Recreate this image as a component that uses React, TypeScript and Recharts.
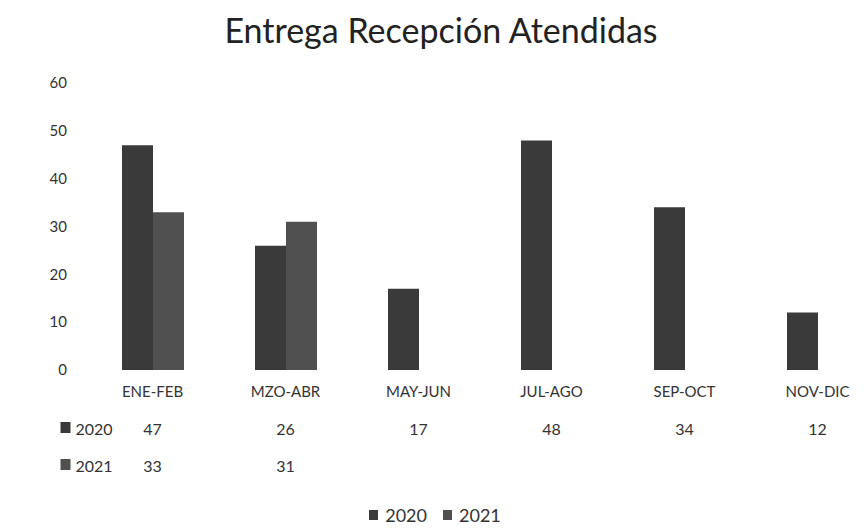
import React from 'react';
import { BarChart, Bar, XAxis, YAxis, Legend } from 'recharts';

const periods = ['ENE-FEB', 'MZO-ABR', 'MAY-JUN', 'JUL-AGO', 'SEP-OCT', 'NOV-DIC'];
const values2020: (number | null)[] = [47, 26, 17, 48, 34, 12];
const values2021: (number | null)[] = [33, 31, null, null, null, null];
const yTicks = [0, 10, 20, 30, 40, 50, 60];

const series = [
  { key: 'y2020', name: '2020', values: values2020, color: '#3a3a3a' },
  { key: 'y2021', name: '2021', values: values2021, color: '#505050' },
];

const data = periods.map((period, i) => ({
  period,
  y2020: values2020[i],
  y2021: values2021[i],
}));

const FONT = 'Lato, "Open Sans", sans-serif';
const TEXT = '#333333';

// one row of the data table under the axis, drawn on its own x axis
const TableTick = (props: any) => {
  const { x, y, index, values, label, color } = props;
  const v = values[index];
  return (
    <g fontFamily={FONT}>
      {index === 0 && (
        <g>
          <rect x={x - 92} y={y + 15} width={10} height={11} fill={color} />
          <text x={x - 77} y={y + 21} dominantBaseline="central" fontSize={16} fill={TEXT}>
            {label}
          </text>
        </g>
      )}
      <text x={x} y={y + 21} textAnchor="middle" dominantBaseline="central" fontSize={16} fill={TEXT}>
        {v == null ? '' : v}
      </text>
    </g>
  );
};

const CategoryTick = (props: any) => {
  const { x, y, payload } = props;
  return (
    <text
      x={x}
      y={y + 21}
      textAnchor="middle"
      dominantBaseline="central"
      fontFamily={FONT}
      fontSize={15}
      fill={TEXT}
    >
      {payload.value}
    </text>
  );
};

const LegendContent = () => (
  <div
    style={{
      display: 'flex',
      justifyContent: 'center',
      gap: 16,
      height: 22,
      alignItems: 'center',
      fontFamily: FONT,
      fontSize: 18,
      color: TEXT,
      marginLeft: -22,
    }}
  >
    {series.map(s => (
      <span key={s.key} style={{ display: 'flex', alignItems: 'center', gap: 7 }}>
        <span style={{ width: 9, height: 10, background: s.color, display: 'inline-block' }} />
        {s.name}
      </span>
    ))}
  </div>
);

export default function App() {
  return (
    <div style={{ position: 'relative', width: 858, height: 522, overflow: 'hidden', background: '#fff' }}>
      <div
        style={{
          position: 'absolute',
          top: 1,
          left: 0,
          width: 858,
          paddingLeft: 8,
          boxSizing: 'border-box',
          textAlign: 'center',
          fontFamily: FONT,
          fontSize: 34,
          color: '#222',
          zIndex: 1,
        }}
      >
        Entrega Recepción Atendidas
      </div>
      <BarChart
        width={890}
        height={522}
        data={data}
        margin={{ top: 75, right: 14, left: 0, bottom: 27 }}
        barCategoryGap={36}
        barGap={0}
      >
        <YAxis
          width={78}
          domain={[0, 60]}
          ticks={yTicks}
          axisLine={false}
          tickLine={false}
          tickSize={6}
          tickMargin={13}
          tick={{ fontFamily: FONT, fontSize: 15, fill: TEXT }}
        />
        <XAxis
          xAxisId="cat"
          dataKey="period"
          height={37}
          interval={0}
          axisLine={false}
          tickLine={false}
          tickSize={0}
          tickMargin={0}
          tick={<CategoryTick />}
        />
        <XAxis
          xAxisId="row2020"
          dataKey="period"
          height={37}
          interval={0}
          axisLine={false}
          tickLine={false}
          tickSize={0}
          tickMargin={0}
          tick={(p: any) => <TableTick {...p} values={values2020} label="2020" color={series[0].color} />}
        />
        <XAxis
          xAxisId="row2021"
          dataKey="period"
          height={37}
          interval={0}
          axisLine={false}
          tickLine={false}
          tickSize={0}
          tickMargin={0}
          tick={(p: any) => <TableTick {...p} values={values2021} label="2021" color={series[1].color} />}
        />
        <Legend
          verticalAlign="bottom"
          content={<LegendContent />}
          wrapperStyle={{ bottom: 4 }}
        />
        {series.map(s => (
          <Bar
            key={s.key}
            xAxisId="cat"
            dataKey={s.key}
            name={s.name}
            fill={s.color}
            isAnimationActive={false}
          />
        ))}
      </BarChart>
    </div>
  );
}
